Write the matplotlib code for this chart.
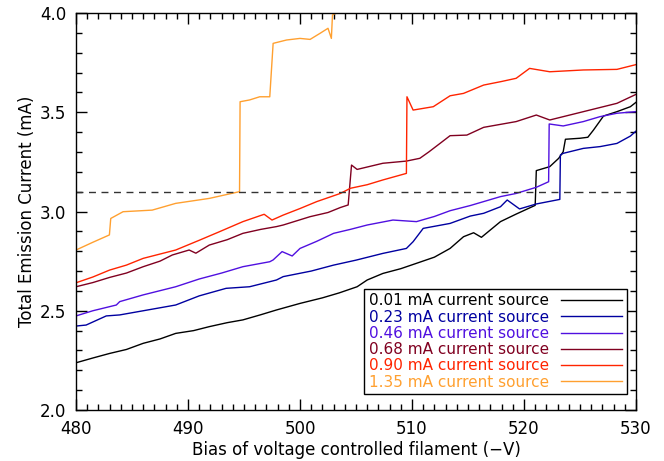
import numpy as np
import matplotlib.pyplot as plt
from matplotlib.ticker import MultipleLocator

# Emission current vs filament bias, one trace per current source setting
bias_001 = [480.0, 481.5, 483.0, 484.5, 486.0, 487.5, 488.9, 490.5, 491.9, 493.5, 494.9,
            496.5, 497.9, 500.0, 502.0, 503.5, 505.1, 506.0, 507.4, 509.0, 510.4, 512.0,
            513.4, 514.6, 515.5, 516.2, 517.9, 519.3, 521.0, 521.1, 522.3, 523.1, 523.5,
            523.7, 525.0, 525.7, 526.2, 527.1, 528.3, 529.5, 530.0]
curr_001 = [2.238, 2.262, 2.285, 2.305, 2.336, 2.358, 2.386, 2.400, 2.420, 2.440, 2.454,
            2.480, 2.504, 2.537, 2.565, 2.590, 2.621, 2.655, 2.688, 2.712, 2.739, 2.770,
            2.814, 2.873, 2.893, 2.870, 2.949, 2.987, 3.031, 3.206, 3.226, 3.268, 3.301,
            3.364, 3.369, 3.374, 3.410, 3.481, 3.503, 3.528, 3.550]

bias_023 = [480.0, 480.9, 482.7, 483.9, 486.0, 488.9, 491.0, 493.4, 495.5, 497.9, 498.5,
            501.0, 503.0, 505.0, 507.4, 509.5, 510.1, 511.0, 513.4, 515.2, 516.4, 517.9,
            518.5, 519.6, 521.1, 523.2, 523.25, 523.5, 525.3, 526.8, 528.3, 529.5, 530.0]
curr_023 = [2.423, 2.428, 2.474, 2.479, 2.500, 2.529, 2.575, 2.613, 2.621, 2.655, 2.672,
            2.700, 2.730, 2.755, 2.789, 2.814, 2.848, 2.915, 2.940, 2.977, 2.991, 3.024,
            3.058, 3.013, 3.038, 3.061, 3.285, 3.293, 3.318, 3.327, 3.343, 3.380, 3.405]

bias_046 = [480.0, 481.5, 483.6, 483.9, 486.0, 488.9, 491.0, 493.0, 494.9, 497.3, 497.6,
            498.4, 499.3, 500.0, 501.5, 503.0, 504.5, 506.0, 508.3, 510.4, 512.0, 513.4,
            515.2, 517.9, 519.3, 521.1, 522.2, 522.25, 523.5, 525.3, 526.8, 528.3, 530.0]
curr_046 = [2.474, 2.500, 2.529, 2.546, 2.580, 2.621, 2.660, 2.690, 2.722, 2.747, 2.756,
            2.798, 2.776, 2.814, 2.850, 2.890, 2.910, 2.932, 2.957, 2.949, 2.975, 3.004,
            3.030, 3.075, 3.091, 3.122, 3.150, 3.441, 3.431, 3.453, 3.478, 3.495, 3.503]

bias_068 = [480.0, 481.5, 483.0, 484.5, 486.0, 487.5, 488.6, 490.1, 490.7, 491.9, 493.5,
            494.9, 496.5, 497.9, 498.5, 500.9, 502.5, 503.6, 504.3, 504.6, 505.1, 507.4,
            509.5, 510.7, 511.5, 512.5, 513.4, 514.9, 516.4, 519.3, 521.1, 522.3, 525.3,
            528.3, 530.0]
curr_068 = [2.621, 2.642, 2.668, 2.690, 2.722, 2.750, 2.781, 2.806, 2.790, 2.831, 2.858,
            2.890, 2.910, 2.924, 2.932, 2.974, 2.995, 3.020, 3.033, 3.234, 3.212, 3.243,
            3.254, 3.268, 3.300, 3.343, 3.382, 3.385, 3.424, 3.453, 3.486, 3.461, 3.503,
            3.545, 3.590]

bias_090 = [480.0, 481.5, 483.0, 484.5, 486.0, 488.9, 491.0, 492.8, 494.9, 496.8, 497.5,
            498.5, 500.0, 501.5, 503.6, 504.5, 506.0, 507.4, 509.5, 509.55, 510.1, 511.9,
            513.4, 514.6, 516.4, 518.0, 519.3, 520.5, 522.3, 525.3, 528.3, 530.0]
curr_090 = [2.641, 2.670, 2.705, 2.730, 2.764, 2.806, 2.855, 2.898, 2.949, 2.986, 2.957,
            2.982, 3.015, 3.050, 3.091, 3.117, 3.135, 3.159, 3.192, 3.578, 3.511, 3.528,
            3.583, 3.595, 3.637, 3.655, 3.671, 3.721, 3.704, 3.713, 3.716, 3.740]

bias_135 = [480.0, 481.5, 482.98, 483.1, 484.2, 486.8, 488.9, 491.9, 494.6, 494.65, 495.5,
            496.4, 497.3, 497.6, 498.8, 500.0, 500.9, 501.8, 502.5, 502.8, 502.9, 503.3,
            504.0]
curr_135 = [2.806, 2.845, 2.882, 2.965, 2.999, 3.007, 3.041, 3.066, 3.100, 3.553, 3.562,
            3.578, 3.578, 3.847, 3.864, 3.872, 3.867, 3.898, 3.923, 3.872, 3.990, 4.002,
            4.030]

labels = ['0.01 mA current source', '0.23 mA current source', '0.46 mA current source',
          '0.68 mA current source', '0.90 mA current source', '1.35 mA current source']
colors = ['#000000', '#0000a0', '#5010e0', '#800020', '#ff2400', '#ffa030']
threshold = 3.1

series = [(bias_001, curr_001), (bias_023, curr_023), (bias_046, curr_046),
          (bias_068, curr_068), (bias_090, curr_090), (bias_135, curr_135)]

fig = plt.figure(figsize=(6.64, 4.61), dpi=100)
ax = fig.add_axes([0.1145, 0.1106, 0.8433, 0.8612])

for (x, y), lab, c in zip(series, labels, colors):
    ax.plot(x, y, color=c, lw=1.0, label=lab)

ax.axhline(threshold, color='#333333', lw=1.0, ls=(0, (5, 4)))

ax.set_xlim(480, 530)
ax.set_ylim(2.0, 4.0)
ax.xaxis.set_major_locator(MultipleLocator(10))
ax.xaxis.set_minor_locator(MultipleLocator(1))
ax.yaxis.set_major_locator(MultipleLocator(0.5))
ax.yaxis.set_minor_locator(MultipleLocator(0.1))
ax.yaxis.set_major_formatter(plt.FormatStrFormatter('%.1f'))
ax.tick_params(which='both', direction='in', top=True, right=True, labelsize=12, width=1)
ax.tick_params(which='major', length=8, pad=7)
ax.tick_params(which='minor', length=4)
for s in ax.spines.values():
    s.set_linewidth(1.0)

ax.set_xlabel('Bias of voltage controlled filament (\u2212V)', fontsize=12, labelpad=2)
ax.set_ylabel('Total Emission Current (mA)', fontsize=12, labelpad=3)

leg = ax.legend(loc='lower right', bbox_to_anchor=(0.984, 0.04), markerfirst=False,
                labelcolor='linecolor', fontsize=11, handlelength=4.0, handletextpad=0.8,
                fancybox=False, framealpha=1, edgecolor='black', borderpad=0.3,
                labelspacing=0.08, borderaxespad=0)
leg.get_frame().set_linewidth(1.0)

fig.savefig('out.png', dpi=100)
